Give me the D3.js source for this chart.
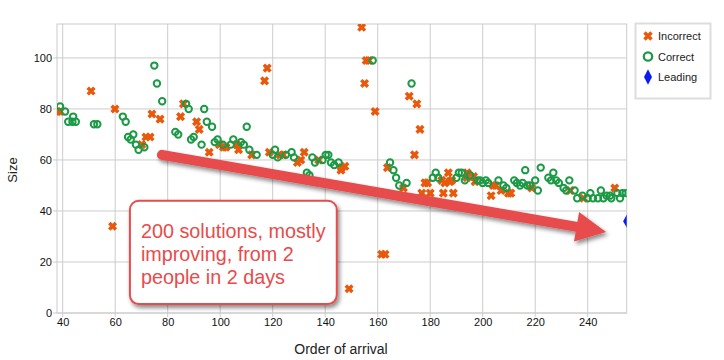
<!DOCTYPE html>
<html><head><meta charset="utf-8">
<script src="https://cdn.jsdelivr.net/npm/d3@7"></script>
<style>body{margin:0;background:#fff}svg{display:block;font-family:Arial,"Liberation Sans",sans-serif}</style>
</head><body><div id="chart"></div>
<script>
const incorrect = [[38,79],[39,79],[50.8,87],[59,34],[59.9,80],[70.1,66],[71.7,69],[73.3,69],[74,78],[77.1,76],[84.9,77],[86,82],[91,75],[92,72],[95.8,63],[99.7,66],[101.2,65],[102.2,65],[106.3,66],[107,64],[112,62],[116.9,91],[117.9,96],[118.7,63],[122.8,62],[124,62],[129.4,59],[130.7,60],[132,63],[137.5,60],[146,56],[146.2,57],[147.5,57.5],[149.1,9.5],[153.9,112],[155,90],[155.6,99],[156.6,99],[159,79],[161.5,23],[162.8,23],[163.7,57],[169.8,49],[172,85],[174,62],[174.9,82],[176.1,72],[176.8,47],[178,51],[179,51],[180,47],[184.4,52],[185,47],[185.6,51],[186.9,55],[187.5,51.5],[188.2,52],[188.8,47],[194.1,55],[194,53],[196.5,53.5],[197.1,51.5],[203.2,46],[204,50],[205,50],[207,48],[209.8,47],[210.7,47],[218.7,49],[233.3,48],[238.4,45],[250.3,49]];
const correct = [[39,81],[40.9,79],[42.1,75],[43.7,75],[44,77],[45,75],[51.9,74],[53.2,74],[62.9,77],[64,75],[64.9,69],[65.9,68],[66.9,70],[67.9,66],[68.9,64],[71.1,65],[74.9,97],[75.9,90],[77.9,83],[82.9,71],[84,70],[87,82],[88,80],[88.9,68],[89.9,69],[92.9,66],[93.9,80],[94.9,75],[96.9,73],[97.9,67],[99,68],[101,66],[104,66],[105,68],[107.9,67],[109,66],[110.1,73],[111.1,64],[113.9,62],[120,62],[120.9,64],[121.9,61],[125,62],[127.2,63],[128.1,61],[133,55],[134,54],[135.1,61],[136.1,59],[139,60],[140.2,62],[141.2,62],[142.2,59],[143.4,58],[145.1,59],[158.1,99],[164.7,59],[166,56],[167,53],[168.2,50],[171,51],[172.9,90],[181,53],[182.1,55],[183.1,53],[190,53],[190.9,55],[192,55],[193.2,52],[195.2,54],[198,52],[199,52],[200,51],[201.2,52],[202.1,51],[206,52],[207.9,50],[209,49],[212,52],[213,51],[214.2,50],[215.2,51],[216.2,56],[217,50],[218,50],[220,52],[221,48],[222.1,57],[225,53],[226,52],[226.9,55],[228,52],[229,51],[230.8,49],[231.8,48],[233,52],[235,48],[236,45],[238,46],[240,45],[241,47],[242,45],[243.9,45],[245,48],[246,45],[247.2,46],[248.5,46],[249,45],[251.3,47],[252.3,45],[253.2,47],[254.5,47]];
const leading = [[255,36]];
const xTicks = [40,60,80,100,120,140,160,180,200,220,240];
const yTicks = [0,20,40,60,80,100];
const legendLabels = ["Incorrect","Correct","Leading"];
const noteLines = ["200 solutions, mostly","improving, from 2","people in 2 days"];
const arrowData = [[77.8,62],[247,31.8]];
const noteBox = [[65.6,44],[144.4,3.5]];

const W=724,H=360;
const m={l:57,r:97.3,t:24,b:47};
const pw=W-m.l-m.r, ph=H-m.t-m.b;
const x=d3.scaleLinear().domain([37.83,254.85]).range([m.l,m.l+pw]);
const y=d3.scaleLinear().domain([0,113.3]).range([m.t+ph,m.t]);
const ORANGE="#e8590c", GREEN="#1a9a45", BLUE="#0a1cf0", RED="#e84b4b";

const svg=d3.select("#chart").append("svg").attr("width",W).attr("height",H);
const defs=svg.append("defs");
defs.append("clipPath").attr("id","plotclip").append("rect").attr("x",m.l).attr("y",m.t).attr("width",pw).attr("height",ph);
const f=defs.append("filter").attr("id","shadow").attr("x","-20%").attr("y","-20%").attr("width","140%").attr("height","150%");
f.append("feDropShadow").attr("dx",2).attr("dy",3).attr("stdDeviation",2).attr("flood-color","#000").attr("flood-opacity",0.45);

// grid
const g=svg.append("g");
g.selectAll(".gx").data(xTicks).join("line").attr("x1",d=>x(d)).attr("x2",d=>x(d)).attr("y1",m.t).attr("y2",m.t+ph+4).attr("stroke","#cccccc");
g.selectAll(".gy").data(yTicks).join("line").attr("x1",m.l-4).attr("x2",m.l+pw).attr("y1",d=>y(d)).attr("y2",d=>y(d)).attr("stroke","#cccccc");
g.append("rect").attr("x",m.l).attr("y",m.t).attr("width",pw).attr("height",ph).attr("fill","none").attr("stroke","#cccccc");

// axes labels
const xa=svg.append("g").attr("transform",`translate(0,${m.t+ph})`).call(d3.axisBottom(x).tickValues(xTicks).tickSize(0).tickPadding(5));
const ya=svg.append("g").attr("transform",`translate(${m.l},0)`).call(d3.axisLeft(y).tickValues(yTicks).tickSize(0).tickPadding(5));
[xa,ya].forEach(a=>{a.select(".domain").remove();a.selectAll("text").attr("font-size",11).attr("fill","#111").attr("font-family","Arial, Liberation Sans");});
svg.append("text").attr("x",341).attr("y",354).attr("text-anchor","middle").attr("font-size",14).attr("fill","#222").text("Order of arrival");
svg.append("text").attr("transform","translate(17,170) rotate(-90)").attr("text-anchor","middle").attr("font-size",13).attr("fill","#222").text("Size");

// marks
const pg=svg.append("g").attr("clip-path","url(#plotclip)");
const xPath=(s)=>`M${-s},${-s}L${s},${s}M${-s},${s}L${s},${-s}`;
pg.selectAll(".inc").data(incorrect).join("path").attr("transform",d=>`translate(${x(d[0])},${y(d[1])})`)
  .attr("d",xPath(3.3)).attr("stroke",ORANGE).attr("stroke-width",3.5).attr("fill","none");
pg.selectAll(".cor").data(correct).join("circle").attr("cx",d=>x(d[0])).attr("cy",d=>y(d[1])).attr("r",3.2)
  .attr("stroke",GREEN).attr("stroke-width",2).attr("fill","none");
const diamond="M0,-7L4,0L0,7L-4,0Z";
pg.selectAll(".lead").data(leading).join("path").attr("transform",d=>`translate(${x(d[0])},${y(d[1])})`).attr("d",diamond).attr("fill",BLUE);

// legend
const lg=svg.append("g");
lg.append("rect").attr("x",635.5).attr("y",23.5).attr("width",75).attr("height",75).attr("fill","#fff").attr("stroke","#dddddd").attr("stroke-width",2);
legendLabels.forEach((t,i)=>{
  const cy=36+i*20.5, cx=648;
  if(i===0) lg.append("path").attr("transform",`translate(${cx},${cy})`).attr("d",xPath(3.5)).attr("stroke",ORANGE).attr("stroke-width",3.5);
  if(i===1) lg.append("circle").attr("cx",cx).attr("cy",cy).attr("r",4.2).attr("fill","none").attr("stroke",GREEN).attr("stroke-width",2.2);
  if(i===2) lg.append("path").attr("transform",`translate(${cx},${cy}) scale(1,1.1)`).attr("d",diamond).attr("fill",BLUE);
  lg.append("text").attr("x",658).attr("y",cy+4).attr("font-size",11).attr("fill","#222").text(t);
});

// arrow annotation
const a0=[x(arrowData[0][0]),y(arrowData[0][1])], a1=[x(arrowData[1][0]),y(arrowData[1][1])];
const dx=a1[0]-a0[0], dy=a1[1]-a0[1], len=Math.hypot(dx,dy), ux=dx/len, uy=dy/len, px=-uy, py=ux;
const hl=30, hw=15, bx=a1[0]-ux*hl, by=a1[1]-uy*hl;
const ag=svg.append("g").attr("filter","url(#shadow)");
ag.append("line").attr("x1",a0[0]).attr("y1",a0[1]).attr("x2",bx+ux*2).attr("y2",by+uy*2).attr("stroke",RED).attr("stroke-width",10).attr("stroke-linecap","round");
ag.append("path").attr("d",`M${a1[0]},${a1[1]}L${bx+px*hw},${by+py*hw}L${bx-px*hw},${by-py*hw}Z`).attr("fill",RED);

// callout box
const bx0=x(noteBox[0][0]), by0=y(noteBox[0][1]), bx1=x(noteBox[1][0]), by1=y(noteBox[1][1]);
svg.append("rect").attr("x",bx0).attr("y",by0).attr("width",bx1-bx0).attr("height",by1-by0).attr("rx",9)
  .attr("fill","#fff").attr("stroke",RED).attr("stroke-width",2).attr("filter","url(#shadow)");
noteLines.forEach((t,i)=>svg.append("text").attr("x",bx0+11).attr("y",by0+37+i*23).attr("font-size",19.8).attr("fill",RED).text(t));
</script></body></html>
